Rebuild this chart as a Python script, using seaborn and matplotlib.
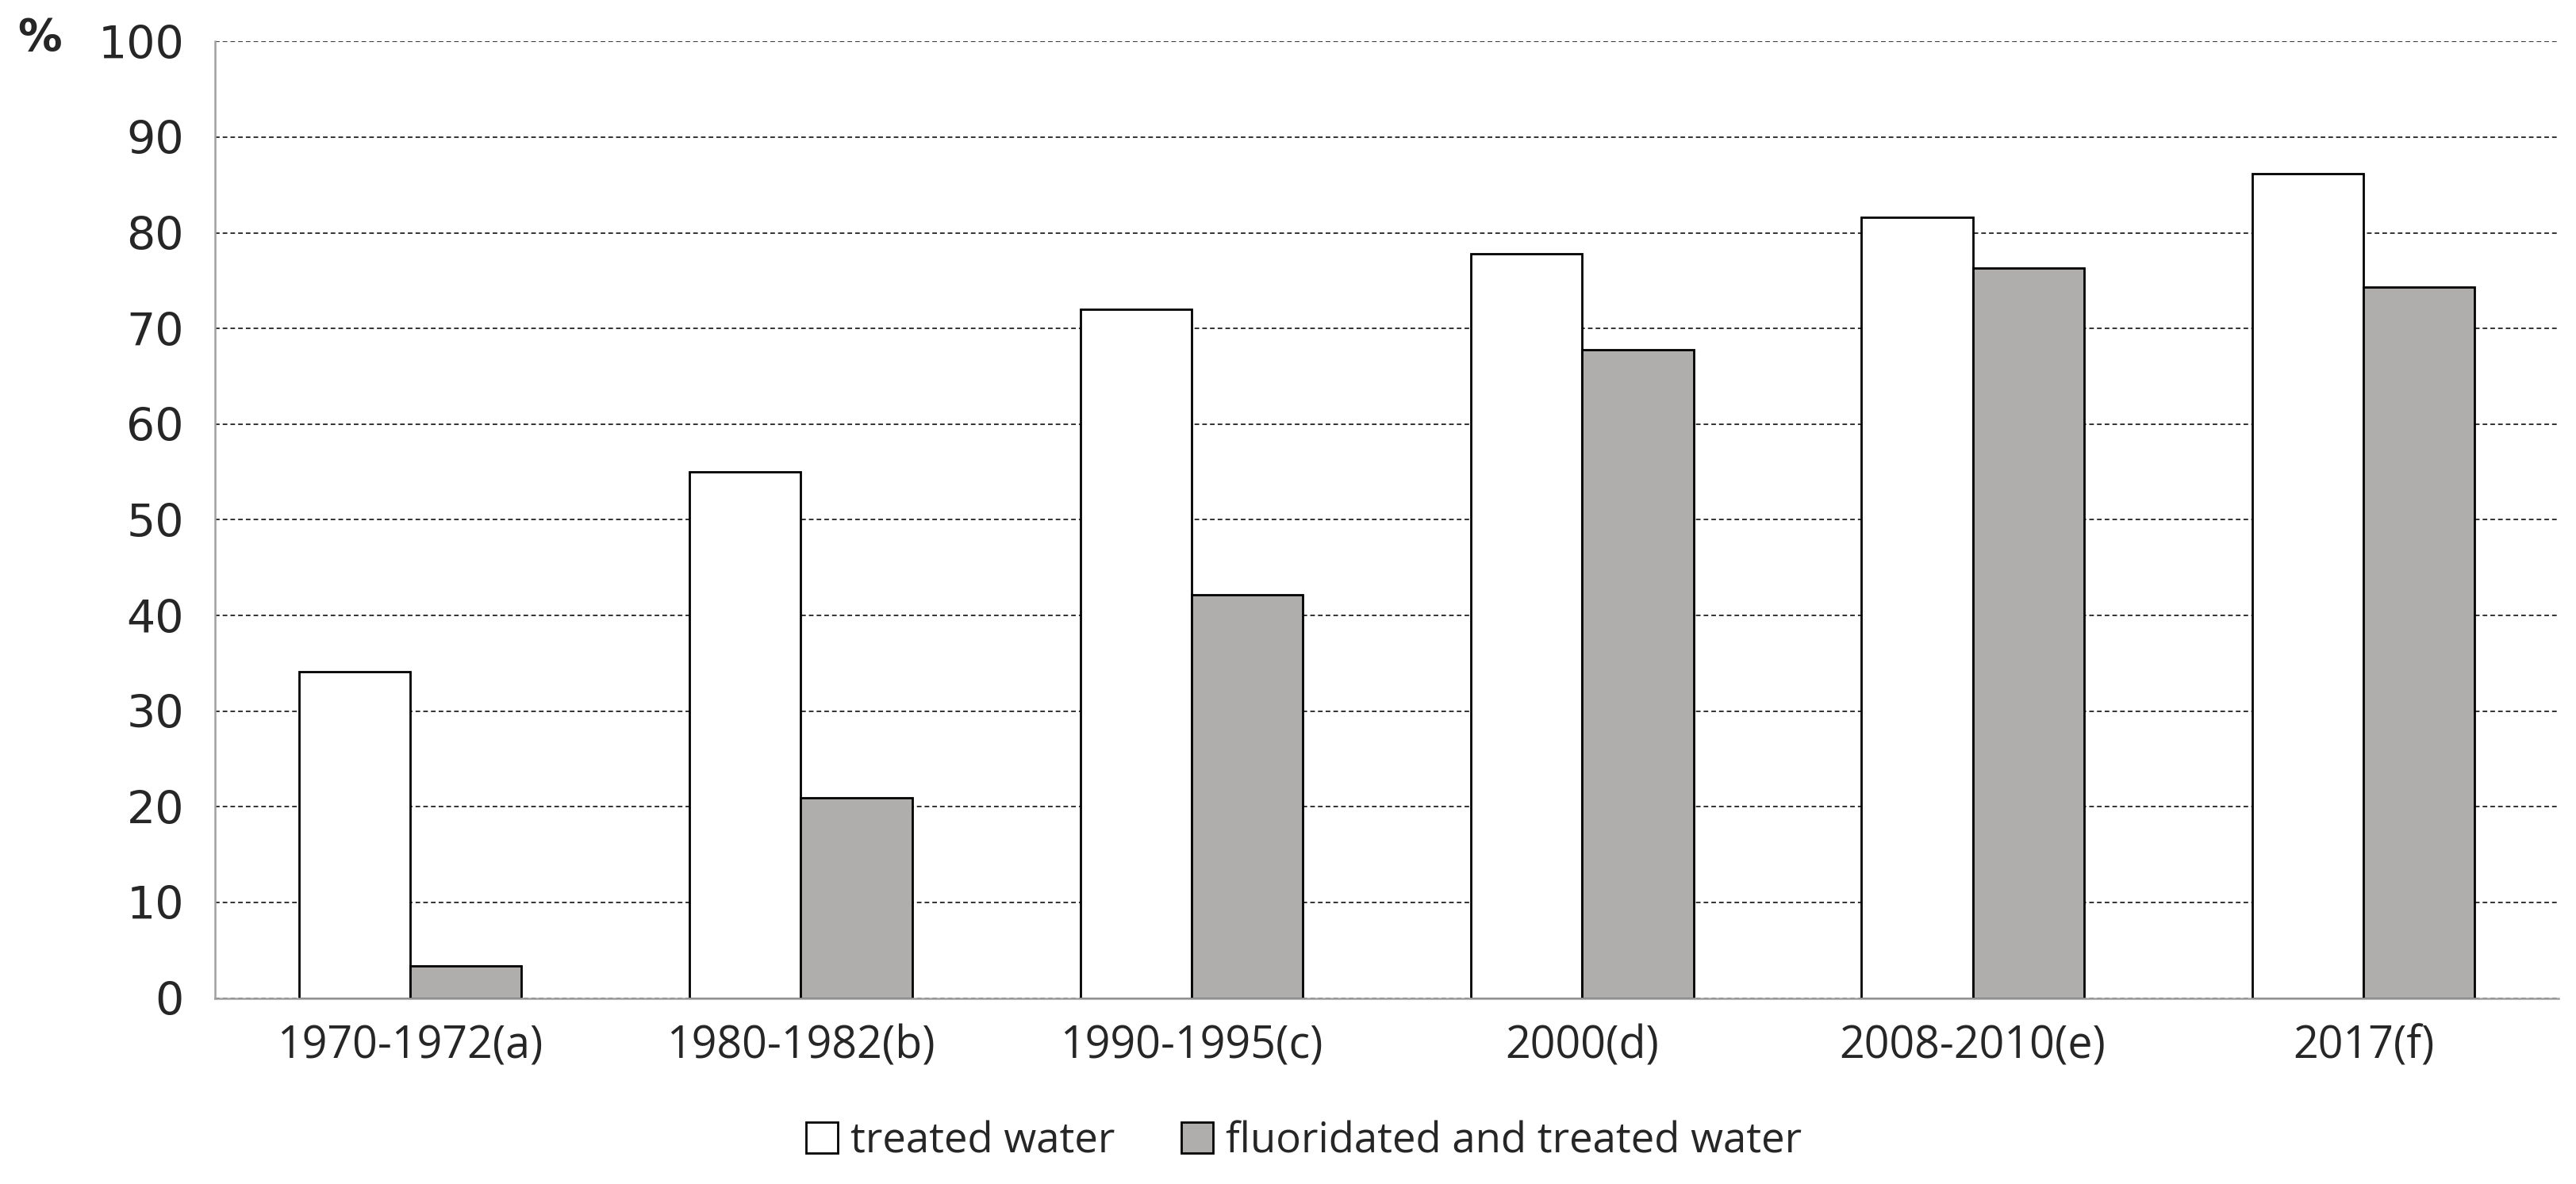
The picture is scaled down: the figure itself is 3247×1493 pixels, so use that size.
import pandas as pd
import seaborn as sns
import matplotlib.pyplot as plt
from matplotlib.ticker import FixedLocator

# data
periods = ['1970-1972(a)', '1980-1982(b)', '1990-1995(c)', '2000(d)', '2008-2010(e)', '2017(f)']
treated = [34.1, 55.0, 72.0, 77.8, 81.6, 86.2]
fluoridated = [3.4, 20.9, 42.2, 67.8, 76.3, 74.3]
series_names = ['treated water', 'fluoridated and treated water']

df = pd.DataFrame({
    'period': periods * 2,
    'value': treated + fluoridated,
    'series': [series_names[0]] * len(periods) + [series_names[1]] * len(periods),
})

sns.set_style('white')
plt.rcParams['font.family'] = ['Open Sans', 'DejaVu Sans']

fig = plt.figure(figsize=(32.48, 14.93), dpi=100)
ax = fig.add_axes([0.0834, 0.157, 0.9096, 0.808])

sns.barplot(data=df, x='period', y='value', hue='series', order=periods,
            hue_order=series_names, palette=['white', '#b1aeac'],
            edgecolor='black', linewidth=2, width=0.57, ax=ax)

ax.set_ylim(0, 100)
ax.set_xlim(-0.5, len(periods) - 0.5)
ax.set_yticks(range(0, 101, 10))
ax.yaxis.grid(True, linestyle=(0, (3, 2)), color='#333333', linewidth=1.4)
ax.set_axisbelow(True)
ax.set_xlabel('')
ax.set_ylabel('')

for s in ['top', 'right']:
    ax.spines[s].set_visible(False)
for s in ['left', 'bottom']:
    ax.spines[s].set_color('#a0a0a0')
    ax.spines[s].set_linewidth(1.8)

ax.tick_params(axis='y', length=14, width=1.5, color='#a0a0a0', direction='out',
               labelsize=41, pad=14)
for lab in ax.get_yticklabels():
    lab.set_family('DejaVu Sans')
ax.tick_params(axis='x', which='major', length=0, labelsize=40, pad=24)
ax.xaxis.set_minor_locator(FixedLocator([i - 0.5 for i in range(len(periods) + 1)]))
ax.tick_params(axis='x', which='minor', length=14, width=1.5, color='#a0a0a0', direction='out')

fig.text(0.007, 0.968, '%', fontsize=40, fontweight='bold', family='DejaVu Sans',
         ha='left', va='center')

handles, labels = ax.get_legend_handles_labels()
ax.legend(handles, labels, loc='center', bbox_to_anchor=(0.506, 0.036),
          bbox_transform=fig.transFigure, ncol=2, frameon=False, fontsize=38,
          handlelength=0.75, handleheight=0.75, handletextpad=0.3, columnspacing=1.6)

plt.savefig('out.png', dpi=100)
